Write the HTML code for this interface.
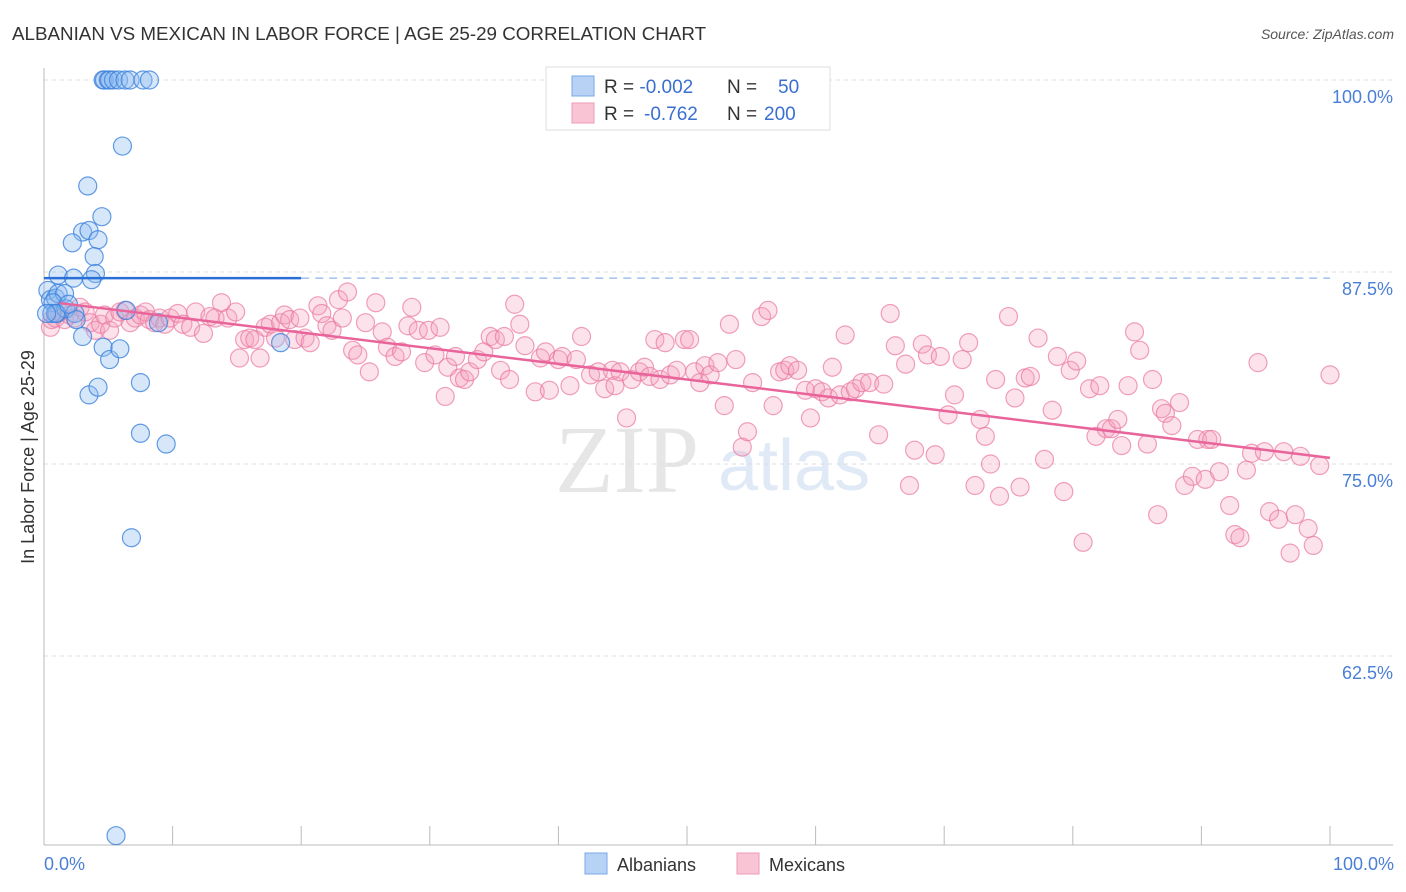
<!DOCTYPE html>
<html><head><meta charset="utf-8"><style>
body{margin:0;background:#fff;font-family:"Liberation Sans",sans-serif;}
svg{display:block}
</style></head><body>
<svg id="chart" width="1406" height="892" xmlns="http://www.w3.org/2000/svg">
<text x="12" y="40" font-size="18.8" fill="#333">ALBANIAN VS MEXICAN IN LABOR FORCE | AGE 25-29 CORRELATION CHART</text>
<text x="1394" y="39" font-size="14" fill="#555" font-style="italic" text-anchor="end">Source: ZipAtlas.com</text>
<g>
<text x="555" y="492" font-size="96" fill="#e6e6e6" font-family="Liberation Serif">ZIP</text>
<text x="718" y="490" font-size="72" fill="#e0e9f6">atlas</text>
</g>
<g id="grid"></g>
<g id="axes"></g>
<g id="marks"></g>
<g id="lines"></g>
<text transform="translate(34,457) rotate(-90)" font-size="18" fill="#333" text-anchor="middle">In Labor Force | Age 25-29</text>
<text x="44" y="870" font-size="18" fill="#4a7fd6">0.0%</text>
<text x="1394" y="870" font-size="18" fill="#4a7fd6" text-anchor="end">100.0%</text>
<g>
<rect x="546" y="67" width="284" height="63" fill="#fff" stroke="#ddd"/>
<rect x="572" y="76" width="22" height="20" fill="#b7d2f5" stroke="#7aa8e8"/>
<rect x="572" y="103" width="22" height="20" fill="#f9c5d5" stroke="#ef9ab5"/>
<text x="604" y="93" font-size="19" fill="#333">R = <tspan fill="#3a6fd0">-0.002</tspan><tspan x="727">N = </tspan><tspan x="778" fill="#3a6fd0">50</tspan></text>
<text x="604" y="120" font-size="19" fill="#333">R = <tspan x="644" fill="#3a6fd0">-0.762</tspan><tspan x="727">N = </tspan><tspan x="764" fill="#3a6fd0">200</tspan></text>
</g>
<g>
<rect x="585" y="853" width="22" height="21" fill="#b7d2f5" stroke="#7aa8e8"/>
<text x="617" y="871" font-size="18" fill="#333">Albanians</text>
<rect x="737" y="853" width="22" height="21" fill="#f9c5d5" stroke="#ef9ab5"/>
<text x="769" y="871" font-size="18" fill="#333">Mexicans</text>
</g>
</svg>
<script>
const yTicks=[100,87.5,75,62.5];
const yTickLabels=["100.0%","87.5%","75.0%","62.5%"];
const xTicks=[0,10,20,30,40,50,60,70,80,90,100];
const blueX=[4.6,4.7,5.0,5.1,5.4,5.8,6.3,6.7,7.7,8.2,6.1,3.4,4.5,3.0,3.5,2.2,4.2,3.9,4.0,1.1,2.3,3.7,0.3,0.5,0.9,1.1,1.6,0.7,0.6,1.0,1.7,2.4,2.5,3.0,4.6,5.1,5.9,3.5,4.2,7.5,7.5,9.5,6.8,5.6,6.4,18.4,8.9,0.9,1.9,0.2];
const blueY=[100,100,100,100,100,100,100,100,100,100,95.7,93.1,91.1,90.1,90.2,89.4,89.6,88.5,87.4,87.3,87.1,87.0,86.3,85.7,85.8,86.1,86.1,85.5,84.8,84.8,85.1,84.8,84.4,83.3,82.6,81.8,82.5,79.5,80.0,80.3,77.0,76.3,70.2,50.8,85.0,82.9,84.2,84.8,85.4,84.8];
const pinkX=[0.5,0.6,0.9,1.2,1.6,2.0,2.4,2.8,3.2,3.6,4.0,4.4,4.7,5.1,5.5,5.9,6.3,6.7,7.1,7.5,7.9,8.2,8.6,9.0,9.4,9.8,10.4,10.8,11.4,11.8,12.4,12.9,13.3,13.8,14.3,14.9,15.2,15.6,16.0,16.4,16.8,17.2,17.6,18.0,18.4,18.7,19.1,19.5,19.9,20.3,20.7,21.3,21.6,22.0,22.4,22.9,23.2,23.6,24.0,24.4,25.0,25.3,25.8,26.3,26.7,27.3,27.8,28.3,28.6,29.1,29.6,29.9,30.4,30.8,31.2,31.4,32.0,32.3,32.7,33.1,33.7,34.2,34.7,35.1,35.5,35.8,36.2,36.6,37.0,37.4,38.2,38.6,39.0,39.3,40.0,40.3,40.9,41.4,41.8,42.5,43.1,43.6,44.2,44.4,44.8,45.3,45.7,46.3,46.7,47.1,47.5,47.9,48.3,48.7,49.2,49.8,50.2,50.6,51.0,51.4,51.8,52.4,52.9,53.3,53.8,54.3,54.7,55.1,55.8,56.3,56.7,57.2,57.6,58.0,58.6,59.2,59.6,60.0,60.5,61.0,61.3,61.9,62.3,62.7,63.1,63.6,64.2,64.9,65.3,65.8,66.2,67.0,67.3,67.7,68.3,68.7,69.3,69.7,70.3,70.8,71.4,71.9,72.4,72.8,73.2,73.6,74.0,74.3,75.0,75.5,75.9,76.3,76.7,77.3,77.8,78.4,78.8,79.3,79.8,80.3,80.8,81.3,81.8,82.1,82.6,83.0,83.5,83.8,84.3,84.8,85.2,85.8,86.2,86.6,86.9,87.2,87.7,88.3,88.7,89.3,89.7,90.3,90.5,90.8,91.4,92.2,92.6,93.0,93.5,93.9,94.4,94.9,95.3,96.0,96.4,96.9,97.3,97.7,98.3,98.7,99.2,100.0];
const pinkY=[83.9,84.4,84.5,84.9,84.4,84.7,84.5,85.2,84.9,84.2,83.7,84.1,84.7,83.7,84.5,84.9,85.0,84.2,84.5,84.7,84.9,84.4,84.2,84.5,84.1,84.5,84.8,84.1,83.9,84.9,83.5,84.6,84.5,85.5,84.5,84.9,81.9,83.1,83.2,83.1,81.9,83.9,84.1,83.2,84.2,84.7,84.4,83.1,84.5,83.2,82.9,85.3,84.8,84.0,83.7,85.7,84.5,86.2,82.4,82.1,84.2,81.0,85.5,83.6,82.6,82.0,82.3,84.0,85.2,83.7,81.6,83.7,82.1,83.9,79.4,81.3,82.0,80.6,80.5,81.0,81.8,82.3,83.3,83.1,81.1,83.3,80.5,85.4,84.1,82.7,79.7,81.9,82.3,79.8,81.8,82.0,80.1,81.8,83.3,80.8,81.0,79.9,81.1,80.1,81.0,78.0,80.5,81.0,81.3,80.7,83.1,80.5,82.9,80.8,81.1,83.1,83.1,81.0,80.3,81.4,80.8,81.6,78.8,84.1,81.8,76.1,77.1,80.3,84.6,85.0,78.8,81.0,81.1,81.4,81.1,79.8,78.0,79.9,79.7,79.3,81.3,79.5,83.4,79.7,79.9,80.3,80.3,76.9,80.2,84.8,82.7,81.5,73.6,75.9,82.8,82.1,75.6,82.0,78.2,79.5,81.8,82.9,73.6,77.9,76.8,75.0,80.5,72.9,84.6,79.3,73.5,80.6,80.7,83.2,75.3,78.5,82.0,73.2,81.1,81.7,69.9,79.9,76.8,80.1,77.3,77.3,77.9,76.2,80.1,83.6,82.4,76.3,80.5,71.7,78.6,78.3,77.5,79.0,73.6,74.2,76.6,74.0,76.6,76.6,74.5,72.3,70.4,70.2,74.6,75.7,81.6,75.8,71.9,71.4,75.8,69.2,71.7,75.5,70.8,69.7,74.9,80.8];
const blueTrend=[87.1,87.1];
const pinkTrend=[85.6,75.4];

const NS="http://www.w3.org/2000/svg";
const X0=44,X1=1330,YT=80,PXPER=15.36;
function sx(v){return X0+(X1-X0)*v/100;}
function sy(v){return YT+(100-v)*PXPER;}
function mk(tag,attrs,parent){const e=document.createElementNS(NS,tag);for(const k in attrs)e.setAttribute(k,attrs[k]);parent.appendChild(e);return e;}
const grid=document.getElementById('grid'),axes=document.getElementById('axes'),marks=document.getElementById('marks'),lines=document.getElementById('lines');
yTicks.forEach((t,i)=>{
  const l=mk('line',{x1:X0,x2:1393,y1:sy(t),y2:sy(t),stroke:'#ddd','stroke-dasharray':'4,4'},grid);
  
  
  const tx=mk('text',{x:1393,y:sy(t)+23,'font-size':18,fill:'#4a7fd6','text-anchor':'end'},axes);
  tx.textContent=yTickLabels[i];
  
  
});
const ya=mk('line',{x1:X0,x2:X0,y1:68,y2:845,stroke:'#bbb'},axes);


const xa=mk('line',{x1:X0,x2:1393,y1:845,y2:845,stroke:'#bbb'},axes);


xTicks.forEach(t=>{
  const l=mk('line',{x1:sx(t),x2:sx(t),y1:826,y2:845,stroke:'#bbb'},axes);
  
  
});
pinkX.forEach((x,i)=>{
  const c=mk('circle',{cx:sx(x),cy:sy(pinkY[i]),r:9,fill:'rgba(245,160,190,0.3)',stroke:'rgba(234,120,160,0.7)','stroke-width':1.2},marks);
  
  
});
blueX.forEach((x,i)=>{
  const c=mk('circle',{cx:sx(x),cy:sy(blueY[i]),r:9,fill:'rgba(140,185,240,0.35)',stroke:'rgba(60,130,220,0.8)','stroke-width':1.2},marks);
  
  
});
function trendY(tr,x){return tr[0]+(tr[1]-tr[0])*x/100;}
const bs=mk('line',{x1:sx(0),x2:sx(20),y1:sy(trendY(blueTrend,0)),y2:sy(trendY(blueTrend,20)),stroke:'#2a6fd6','stroke-width':2.5},lines);


const bd=mk('line',{x1:sx(20),x2:sx(100),y1:sy(trendY(blueTrend,20)),y2:sy(trendY(blueTrend,100)),stroke:'#8fb4e8','stroke-width':1.2,'stroke-dasharray':'8,6'},lines);


const pl=mk('line',{x1:sx(1.2),x2:sx(100),y1:sy(trendY(pinkTrend,1.2)),y2:sy(trendY(pinkTrend,100)),stroke:'#e8649a','stroke-width':2.5},lines);


</script>
</body></html>
